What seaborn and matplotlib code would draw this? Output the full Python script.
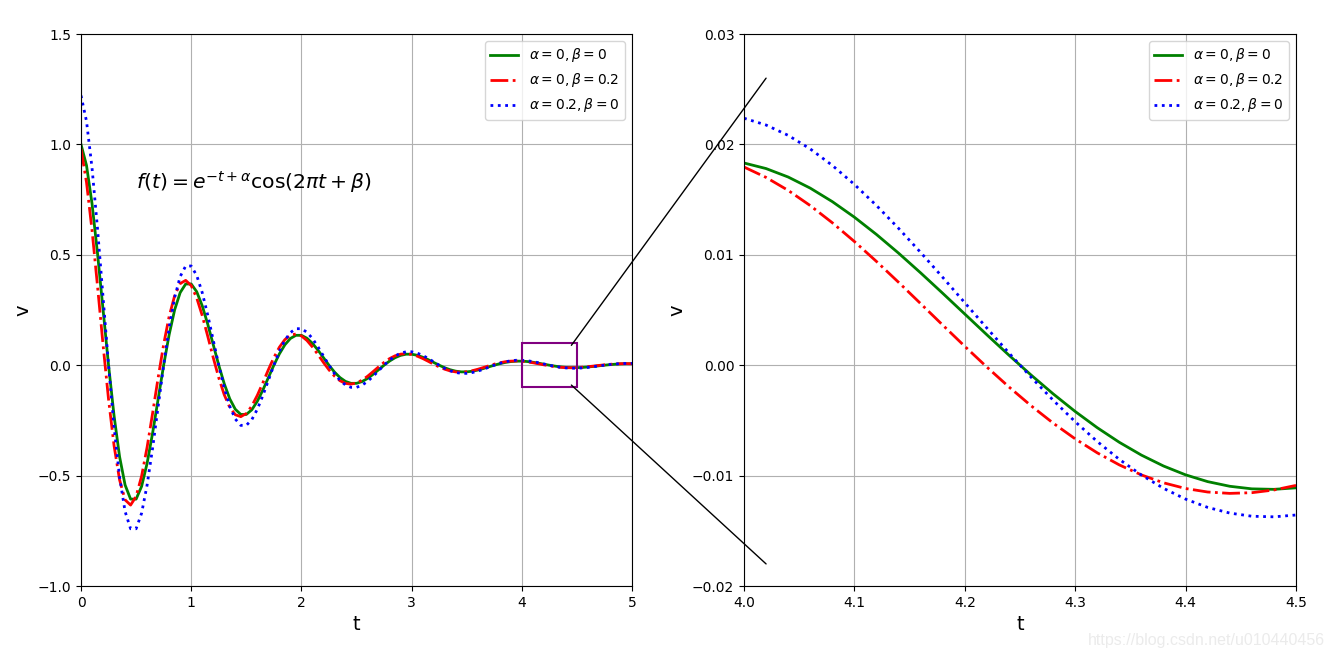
import matplotlib
matplotlib.use('Agg')
import matplotlib.pyplot as plt
import seaborn as sns
from matplotlib.patches import Rectangle, ConnectionPatch

# values
t_full = [0.0, 0.05, 0.1, 0.15, 0.2, 0.25, 0.3, 0.35, 0.4, 0.45, 0.5, 0.55, 0.6, 0.65, 0.7, 0.75, 0.8, 0.85, 0.9, 0.95,
          1.0, 1.05, 1.1, 1.15, 1.2, 1.25, 1.3, 1.35, 1.4, 1.45, 1.5, 1.55, 1.6, 1.65, 1.7, 1.75, 1.8, 1.85, 1.9, 1.95,
          2.0, 2.05, 2.1, 2.15, 2.2, 2.25, 2.3, 2.35, 2.4, 2.45, 2.5, 2.55, 2.6, 2.65, 2.7, 2.75, 2.8, 2.85, 2.9, 2.95,
          3.0, 3.05, 3.1, 3.15, 3.2, 3.25, 3.3, 3.35, 3.4, 3.45, 3.5, 3.55, 3.6, 3.65, 3.7, 3.75, 3.8, 3.85, 3.9, 3.95,
          4.0, 4.05, 4.1, 4.15, 4.2, 4.25, 4.3, 4.35, 4.4, 4.45, 4.5, 4.55, 4.6, 4.65, 4.7, 4.75, 4.8, 4.85, 4.9, 4.95,
          5.0]
green_full = [1.0, 0.9047, 0.7320, 0.5059, 0.2530, 0.0, -0.2289, -0.4142, -0.5423, -0.6064, -0.6065, -0.5487, -0.4440, -0.3068, -0.1535, 0.0, 0.1388, 0.2512, 0.3289, 0.3678,
              0.3679, 0.3328, 0.2693, 0.1861, 0.0931, 0.0, -0.0842, -0.1524, -0.1995, -0.2231, -0.2231, -0.2019, -0.1633, -0.1129, -0.0565, 0.0, 0.0511, 0.0924, 0.1210, 0.1353,
              0.1353, 0.1224, 0.0991, 0.0685, 0.0342, 0.0, -0.0310, -0.0560, -0.0734, -0.0821, -0.0821, -0.0743, -0.0601, -0.0415, -0.0208, 0.0, 0.0188, 0.0340, 0.0445, 0.0498,
              0.0498, 0.0450, 0.0364, 0.0252, 0.0126, 0.0, -0.0114, -0.0206, -0.0270, -0.0302, -0.0302, -0.0273, -0.0221, -0.0153, -0.0076, 0.0, 0.0069, 0.0125, 0.0164, 0.0183,
              0.0183, 0.0166, 0.0134, 0.0093, 0.0046, 0.0, -0.0042, -0.0076, -0.0099, -0.0111, -0.0111, -0.0101, -0.0081, -0.0056, -0.0028, 0.0, 0.0025, 0.0046, 0.0060, 0.0067,
              0.0067]
red_full = [0.9801, 0.8282, 0.6117, 0.3575, 0.0932, -0.1547, -0.3643, -0.5193, -0.6098, -0.6335, -0.5944, -0.5023, -0.3710, -0.2168, -0.0566, 0.0939, 0.2210, 0.3150, 0.3699, 0.3842,
            0.3606, 0.3047, 0.2250, 0.1315, 0.0343, -0.0569, -0.1340, -0.1910, -0.2243, -0.2331, -0.2187, -0.1848, -0.1365, -0.0798, -0.0208, 0.0345, 0.0813, 0.1159, 0.1361, 0.1413,
            0.1326, 0.1121, 0.0828, 0.0484, 0.0126, -0.0209, -0.0493, -0.0703, -0.0825, -0.0857, -0.0804, -0.0680, -0.0502, -0.0293, -0.0077, 0.0127, 0.0299, 0.0426, 0.0501, 0.0520,
            0.0488, 0.0412, 0.0305, 0.0178, 0.0046, -0.0077, -0.0181, -0.0259, -0.0304, -0.0315, -0.0296, -0.0250, -0.0185, -0.0108, -0.0028, 0.0047, 0.0110, 0.0157, 0.0184, 0.0191,
            0.0180, 0.0152, 0.0112, 0.0065, 0.0017, -0.0028, -0.0067, -0.0095, -0.0112, -0.0116, -0.0109, -0.0092, -0.0068, -0.0040, -0.0010, 0.0017, 0.0040, 0.0058, 0.0068, 0.0070,
            0.0066]
blue_full = [1.2214, 1.1050, 0.8941, 0.6179, 0.3090, 0.0, -0.2796, -0.5059, -0.6624, -0.7407, -0.7408, -0.6702, -0.5423, -0.3747, -0.1875, 0.0, 0.1695, 0.3068, 0.4017, 0.4492,
             0.4493, 0.4065, 0.3289, 0.2273, 0.1137, 0.0, -0.1028, -0.1861, -0.2437, -0.2725, -0.2725, -0.2466, -0.1995, -0.1379, -0.0690, 0.0, 0.0624, 0.1129, 0.1478, 0.1653,
             0.1653, 0.1495, 0.1210, 0.0837, 0.0418, 0.0, -0.0379, -0.0684, -0.0897, -0.1003, -0.1003, -0.0907, -0.0734, -0.0507, -0.0254, 0.0, 0.0230, 0.0415, 0.0544, 0.0608,
             0.0608, 0.0550, 0.0445, 0.0308, 0.0154, 0.0, -0.0139, -0.0252, -0.0330, -0.0369, -0.0369, -0.0333, -0.0270, -0.0187, -0.0093, 0.0, 0.0084, 0.0153, 0.0200, 0.0224,
             0.0224, 0.0202, 0.0164, 0.0113, 0.0057, 0.0, -0.0051, -0.0093, -0.0121, -0.0136, -0.0136, -0.0123, -0.0099, -0.0069, -0.0034, 0.0, 0.0031, 0.0056, 0.0073, 0.0082,
             0.0082]

# zoomed window 4.0 - 4.5
t_zoom = [4.0, 4.02, 4.04, 4.06, 4.08, 4.1, 4.12, 4.14, 4.16, 4.18, 4.2, 4.22, 4.24,
          4.26, 4.28, 4.3, 4.32, 4.34, 4.36, 4.38, 4.4, 4.42, 4.44, 4.46, 4.48, 4.5]
green_zoom = [0.018316, 0.017811, 0.017045, 0.016039, 0.014816, 0.013407, 0.011841, 0.010150, 0.008363,
              0.006514, 0.004634, 0.002754, 0.000905, -0.000887, -0.002594, -0.004193, -0.005662, -0.006986,
              -0.008146, -0.009131, -0.009932, -0.010546, -0.010967, -0.011200, -0.011245, -0.011109]
red_zoom = [0.017951, 0.017009, 0.015836, 0.014457, 0.012902, 0.011204, 0.009396, 0.007510, 0.005578,
            0.003634, 0.001708, -0.000169, -0.001970, -0.003669, -0.005244, -0.006672, -0.007940, -0.009033,
            -0.009940, -0.010653, -0.011169, -0.011487, -0.011611, -0.011548, -0.011303, -0.010888]
blue_zoom = [0.022371, 0.021754, 0.020819, 0.019590, 0.018096, 0.016375, 0.014463, 0.012397, 0.010215,
             0.007956, 0.005660, 0.003364, 0.001105, -0.001083, -0.003168, -0.005121, -0.006916, -0.008533,
             -0.009949, -0.011153, -0.012131, -0.012881, -0.013395, -0.013680, -0.013735, -0.013569]

labels = [r'$\alpha=0,\beta=0$', r'$\alpha=0,\beta=0.2$', r'$\alpha=0.2,\beta=0$']

fig = plt.figure(figsize=(13.34, 6.58), dpi=100)
ax1 = fig.add_axes([81 / 1334, 72 / 658, 551 / 1334, 552 / 658])
ax2 = fig.add_axes([744 / 1334, 72 / 658, 552 / 1334, 552 / 658])

for ax, t, g, r, b in [(ax1, t_full, green_full, red_full, blue_full),
                       (ax2, t_zoom, green_zoom, red_zoom, blue_zoom)]:
    sns.lineplot(x=t, y=g, color='green', linestyle='-', linewidth=2, label=labels[0], ax=ax)
    sns.lineplot(x=t, y=r, color='red', linestyle='-.', linewidth=2, label=labels[1], ax=ax)
    sns.lineplot(x=t, y=b, color='blue', linestyle=':', linewidth=2, label=labels[2], ax=ax)
    ax.grid(True)
    ax.set_xlabel('t', fontsize=14)
    ax.set_ylabel('v', fontsize=14)
    ax.legend(loc='upper right')

ax1.set_xlim(0, 5)
ax1.set_ylim(-1, 1.5)
ax1.set_yticks([-1.0, -0.5, 0.0, 0.5, 1.0, 1.5])
ax1.text(0.5, 0.8, r'$f(t)=e^{-t+\alpha}\cos(2\pi t+\beta)$', fontsize=14.7)
ax1.add_patch(Rectangle((4.0, -0.1), 0.5, 0.2, fill=False, edgecolor='purple', linewidth=1.5, zorder=5))

ax2.set_xlim(4.0, 4.5)
ax2.set_ylim(-0.02, 0.03)
ax2.set_xticks([4.0, 4.1, 4.2, 4.3, 4.4, 4.5])

# connector lines from the box to the zoomed panel
for ya, yb in [(0.09, 0.026), (-0.09, -0.018)]:
    con = ConnectionPatch(xyA=(4.45, ya), coordsA=ax1.transData,
                          xyB=(4.02, yb), coordsB=ax2.transData,
                          color='black', linewidth=1)
    fig.add_artist(con)

fig.text(1325 / 1334, 1 - 640 / 658, 'https://blog.csdn.net/u010440456', ha='right', va='center',
         color='#ebebeb', fontsize=11.5, family='Liberation Sans')

plt.savefig('out.png', dpi=100)
